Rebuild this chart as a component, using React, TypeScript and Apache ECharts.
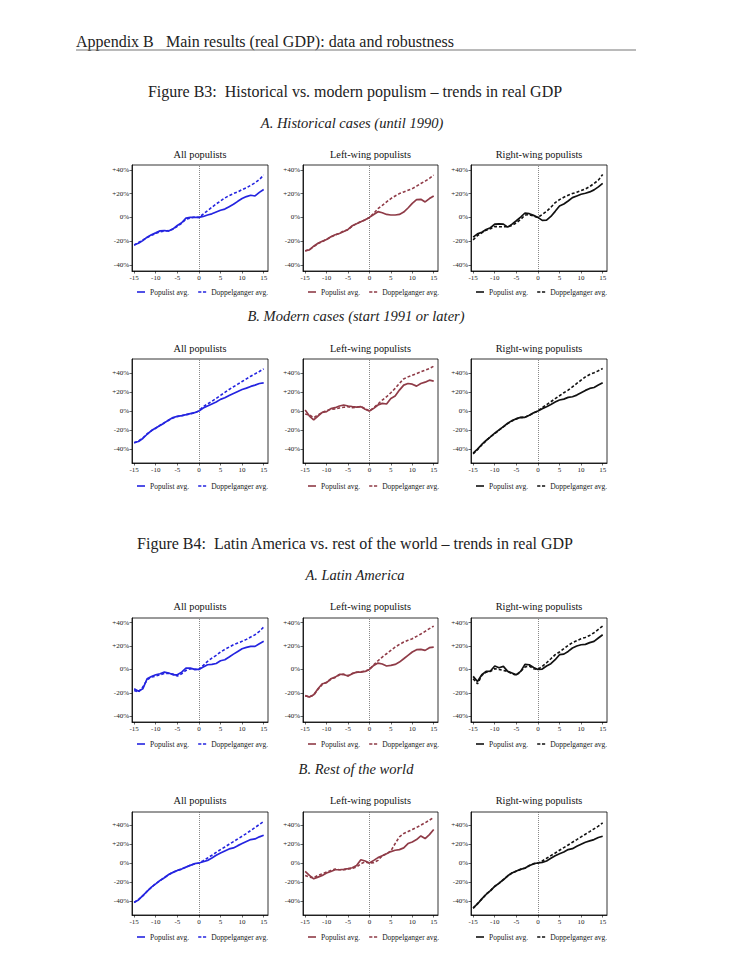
import React, { useEffect, useRef } from "react";
import * as echarts from "echarts";

// ---------------- data ----------------
const years = [-15, -14, -13, -12, -11, -10, -9, -8, -7, -6, -5, -4, -3, -2, -1, 0, 1, 2, 3, 4, 5, 6, 7, 8, 9, 10, 11, 12, 13, 14, 15];
const xTicks = [-15, -10, -5, 0, 5, 10, 15];
const yTicks = [-40, -20, 0, 20, 40];
const panelTitles = ["All populists", "Left-wing populists", "Right-wing populists"];
const legendNames = ["Populist avg.", "Doppelganger avg."];
const groupColors = ["#2424e0", "#8f3b47", "#111111"];

// Figure B3 A: Historical cases
const histAllPop = [-23, -21.7, -19.5, -16.6, -14.6, -13, -11.3, -11, -11.5, -9.6, -6.8, -4.5, -0.6, 0, 0, 0, 0.8, 2, 3, 4.5, 6, 7, 9, 11, 13.5, 15.8, 17.5, 18.6, 18, 21, 23.4];
const histAllDop = [-23.5, -21, -19, -17, -15, -13.5, -12, -11.5, -11, -10, -7.5, -5, -1.5, -0.5, 0.3, 0, 2.8, 5.6, 8.5, 11.3, 13.8, 16.3, 18.3, 20, 21.4, 23.4, 24.8, 27, 29, 31.8, 35.5];
const histLeftPop = [-28, -27.3, -24.2, -21.7, -20, -18.6, -16.3, -14.6, -13.5, -11.8, -10.1, -7, -5.4, -3.7, -2, 0, 2.5, 4.8, 3.9, 2.5, 2, 2, 2.5, 4.5, 7.9, 11.8, 14.9, 15.2, 13, 15.8, 18];
const histLeftDop = [-28.2, -27, -24.5, -22, -20.3, -18.4, -16.5, -14.8, -13.2, -11.5, -10.3, -7.3, -5.2, -3.5, -2.1, 0, 3.4, 7.3, 10.1, 13, 15.8, 18, 20, 21.4, 22.8, 24.2, 26.2, 28.5, 30.4, 32.7, 35.5];
const histRightPop = [-16.6, -13.8, -12.4, -10.1, -8.7, -5.6, -5.4, -5.6, -8.2, -5.6, -2.8, 0.3, 3.7, 3.1, 1.7, 0, -2.5, -2.3, 0.8, 5.1, 9.6, 11.3, 13.8, 16.6, 18, 19.4, 20.3, 21.4, 23.1, 25.6, 28.5];
const histRightDop = [-18.9, -15.2, -13, -10.7, -9.6, -7.6, -7.9, -7.9, -7.9, -6.8, -4.5, -1.7, 2, 2.3, 1.1, 0, 2.5, 5.1, 8.5, 12.4, 14.9, 16.9, 18.6, 20, 21.1, 22.5, 23.9, 25.9, 28.5, 31.3, 36];

// Figure B3 B: Modern cases
const modAllPop = [-33.3, -32.3, -29.1, -24.6, -20.7, -17.9, -15.4, -12.6, -9.5, -7, -5.6, -4.9, -3.9, -2.8, -1.8, 0, 3.2, 5.3, 7.4, 9.5, 12.3, 14, 16.5, 18.6, 20.7, 22.8, 24.2, 26, 27.4, 29.1, 29.8];
const modAllDop = [-33.8, -31.8, -28.6, -24.2, -21, -18.2, -15, -12.3, -9.8, -7.3, -5.8, -5, -4, -3, -1.9, 0, 4.6, 7.4, 10.2, 13.3, 16.5, 19.6, 22.8, 25.6, 28.4, 31.2, 34, 36.8, 39.3, 41.8, 44.6];
const modLeftPop = [1, -5.3, -9.5, -5.3, -1.4, -0.7, 2.5, 3.5, 5.3, 6.3, 5.3, 4.6, 4.2, 4.6, 1.8, 0, 2.8, 6.3, 8.1, 7.4, 13.3, 15.8, 22.1, 27.4, 29.1, 28.4, 26.3, 29.1, 30.5, 32.6, 31.6];
const modLeftDop = [-3.2, -4.2, -7, -4.2, -1.4, 0.4, 1.8, 2.1, 3.2, 3.9, 4.6, 3.5, 3.9, 4.6, 2.5, 0, 3.5, 7.4, 11.6, 15.1, 19.3, 23.9, 29.1, 34, 36.1, 37.9, 39.6, 41.4, 43.2, 44.9, 47.4];
const modRightPop = [-44.6, -40.4, -35.4, -31.2, -27.4, -23.5, -20, -16.5, -13, -10.2, -8.1, -6.7, -6.7, -4.6, -1.8, 0, 2.5, 4.6, 7, 9.5, 11.6, 12.6, 14.4, 15.1, 16.8, 19.3, 21.8, 23.9, 24.9, 27.4, 29.8];
const modRightDop = [-45.3, -41, -35.8, -31.5, -27.2, -23.8, -20.3, -16.8, -13.3, -10.5, -8.4, -7, -6.5, -4.8, -2, 0, 3.5, 6.7, 9.8, 13, 16.1, 19.3, 22.1, 25.6, 29.1, 32.6, 36.1, 38.6, 40.4, 42.5, 44.9];

// Figure B4 A: Latin America
const latAllPop = [-16.6, -18.6, -16.6, -8, -6, -4.6, -3.7, -2.3, -3.1, -4.6, -4.6, -2.3, 1.1, 1.1, 0, 0, 2, 4, 4.3, 5.1, 7.4, 8.3, 10.6, 13.1, 15.4, 17.7, 18.9, 19.7, 19.7, 22, 24];
const latAllDop = [-18, -19.4, -15.1, -8.9, -6.6, -5.7, -4.6, -3.4, -3.4, -4, -5.7, -3.7, -0.9, 0.6, 0, 0, 3.4, 6.9, 9.7, 12, 14.9, 17.1, 19.1, 21.1, 22.6, 24, 25.7, 27.7, 29.7, 32.6, 36.3];
const latLeftPop = [-22.3, -23.7, -21.7, -16.6, -12.3, -11.4, -8, -6.6, -4.3, -4.3, -5.7, -3.7, -2.3, -2.3, -1.7, 0, 3.4, 5.4, 4.6, 2.9, 3.4, 4.3, 6.3, 9.1, 12, 14.9, 16.9, 17.1, 16.3, 18.6, 19.1];
const latLeftDop = [-22.8, -23.3, -22, -17, -12.8, -11, -8.4, -6.9, -4.6, -4.1, -5.4, -3.4, -2.6, -2, -1.4, 0, 4, 7.4, 10.6, 13.4, 16.3, 19.1, 21.4, 23.4, 24.9, 26.3, 28.3, 30.3, 32.6, 34.9, 37.1];
const latRightPop = [-6, -10.3, -4.6, -1.7, -1.4, 2.9, 1.4, 2.6, -1.7, -3.1, -4.6, -1.7, 4.3, 4, 1.7, 0, 0.3, 2.9, 4.9, 8.3, 12.6, 13.1, 15.4, 18.3, 20, 21.1, 21.4, 22.9, 24, 26.9, 29.7];
const latRightDop = [-8, -12.3, -5.1, -2.3, -1.7, 0.6, 0, -0.9, -1.7, -3.7, -5.1, -1.7, 2, 2.9, 0.6, 0, 2.6, 5.7, 9.1, 12.6, 14.9, 17.7, 20.6, 22.9, 24.6, 26.3, 27.4, 29.1, 31.4, 34.3, 37.1];

// Figure B4 B: Rest of the world
const rowAllPop = [-41.5, -39, -34.4, -30.1, -25.5, -22, -18.4, -15.6, -12.1, -9.9, -7.8, -6.4, -4.3, -2.5, -0.7, 0, 1.4, 2.8, 5.3, 8.2, 10.6, 12.8, 14.9, 16, 18.4, 20.6, 22.7, 24.8, 25.5, 27.7, 29.4];
const rowAllDop = [-42, -38.6, -34.8, -29.8, -25.8, -21.7, -18.7, -15.3, -12.4, -9.6, -8, -6.2, -4.5, -2.3, -0.9, 0, 2.5, 5.3, 8.2, 11.3, 14.2, 17, 19.9, 22.7, 25.5, 28.4, 31.2, 34.4, 37.6, 40.8, 44];
const rowLeftPop = [-8.9, -13.1, -16.7, -14.9, -13.1, -10.6, -8.9, -7.1, -7.1, -6.7, -6, -5, -2.5, 3.5, 2.1, 0, 2.8, 5.7, 7.8, 9.9, 12.1, 13.5, 14.2, 16, 20.6, 22.3, 24.8, 28.7, 25.9, 30.1, 35.5];
const rowLeftDop = [-13.1, -14.9, -15.6, -13.1, -11.3, -9.6, -7.8, -6.4, -7.1, -7.1, -6.4, -5.7, -4.3, -0.7, 1.1, 0, 0.4, 2.8, 7.8, 9.9, 12.8, 20.6, 27.7, 31.2, 33.3, 35.5, 37.6, 40.1, 42.6, 45.4, 48.2];
const rowRightPop = [-47.5, -43.3, -37.9, -33.3, -29.1, -24.8, -21.3, -17.7, -13.5, -10.6, -8.5, -6.7, -5.3, -2.8, -0.7, 0, 0.7, 2.1, 5, 7.8, 9.9, 11.7, 14.2, 15.2, 17.7, 19.9, 22, 23.4, 24.8, 27, 28.4];
const rowRightDop = [-48, -43, -38.2, -33, -29.4, -24.5, -21.6, -17.4, -13.8, -10.3, -8.8, -6.5, -5.5, -2.6, -0.9, 0, 2.1, 5, 7.8, 10.6, 13.5, 16.3, 19.1, 22, 24.8, 27.7, 30.5, 33.3, 36.2, 39, 42.6];

const panelData = [
  [[histAllPop, histAllDop], [histLeftPop, histLeftDop], [histRightPop, histRightDop]],
  [[modAllPop, modAllDop], [modLeftPop, modLeftDop], [modRightPop, modRightDop]],
  [[latAllPop, latAllDop], [latLeftPop, latLeftDop], [latRightPop, latRightDop]],
  [[rowAllPop, rowAllDop], [rowLeftPop, rowLeftDop], [rowRightPop, rowRightDop]],
];

// ---------------- layout ----------------
const W = 750;
const H = 971;
const SERIF = "'Liberation Serif', 'DejaVu Serif', serif";
const colLeft = [132, 303, 471];
const colWidth = [136, 135, 136];
const rowTop = [165, 359, 618, 812];
const rowHeight = [106, 104, 104, 103];
const rowYMin = [-45, -55, -45, -55];
const rowYMax = [44, 55, 44, 54];
const titleY = [155, 349, 607, 801];
const legendY = [292, 486, 744, 937];

const SOLID_ICON = "path://M0,0H10V2H0Z";
const DASH_ICON = "path://M0,0H4V2H0Z M6,0H10V2H6Z";

function buildOption() {
  const grid: any[] = [];
  const xAxis: any[] = [];
  const yAxis: any[] = [];
  const series: any[] = [];
  const legend: any[] = [];
  const title: any[] = [];

  panelData.forEach((row, r) => {
    row.forEach((pair, c) => {
      const idx = r * 3 + c;
      const color = groupColors[c];
      grid.push({
        left: colLeft[c],
        top: rowTop[r],
        width: colWidth[c],
        height: rowHeight[r],
        show: true,
        borderColor: "#000",
        borderWidth: 0.8,
        backgroundColor: "transparent",
      });
      xAxis.push({
        gridIndex: idx,
        type: "value",
        min: -15.5,
        max: 16,
        splitLine: { show: false },
        axisLine: { show: true, onZero: false, lineStyle: { color: "#000", width: 0.8 } },
        axisTick: { show: true, customValues: xTicks, length: 2.5, lineStyle: { color: "#000", width: 0.6 } },
        axisLabel: { customValues: xTicks, fontSize: 7, fontFamily: SERIF, color: "#222", margin: 3 },
      });
      yAxis.push({
        gridIndex: idx,
        type: "value",
        min: rowYMin[r],
        max: rowYMax[r],
        splitLine: { show: false },
        axisLine: { show: true, onZero: false, lineStyle: { color: "#000", width: 0.8 } },
        axisTick: { show: true, customValues: yTicks, length: 2.5, lineStyle: { color: "#000", width: 0.6 } },
        axisLabel: {
          customValues: yTicks,
          fontSize: 7,
          fontFamily: SERIF,
          color: "#222",
          margin: 3,
          formatter: (v: number) => (v > 0 ? "+" + v + "%" : v + "%"),
        },
      });
      const popName = legendNames[0] + "#" + idx;
      const dopName = legendNames[1] + "#" + idx;
      series.push({
        name: dopName,
        type: "line",
        xAxisIndex: idx,
        yAxisIndex: idx,
        data: years.map((y, i) => [y, pair[1][i]]),
        symbol: "none",
        showSymbol: false,
        color,
        lineStyle: { color, width: 1.6, type: [3, 2] },
        z: 3,
      });
      series.push({
        name: popName,
        type: "line",
        xAxisIndex: idx,
        yAxisIndex: idx,
        data: years.map((y, i) => [y, pair[0][i]]),
        symbol: "none",
        showSymbol: false,
        color,
        lineStyle: { color, width: 1.7, type: "solid" },
        z: 4,
        markLine: {
          silent: true,
          symbol: ["none", "none"],
          label: { show: false },
          lineStyle: { color: "#555", width: 0.7, type: [1, 1] },
          data: [{ xAxis: 0 }],
          z: 2,
        },
      });
      legend.push({
        data: [
          { name: popName, icon: SOLID_ICON, itemStyle: { color } },
          { name: dopName, icon: DASH_ICON, itemStyle: { color } },
        ],
        left: colLeft[c] + 5,
        top: legendY[r] - 5,
        itemWidth: 8,
        itemHeight: 2,
        itemGap: 9,
        padding: 0,
        selectedMode: false,
        formatter: (n: string) => n.split("#")[0],
        textStyle: { fontSize: 7.5, fontFamily: SERIF, color: "#222", lineHeight: 10 },
      });
      title.push({
        text: panelTitles[c],
        left: colLeft[c] + colWidth[c] / 2,
        top: titleY[r] - 5.5,
        textAlign: "center",
        padding: 0,
        textStyle: { fontSize: 10.3, fontFamily: SERIF, fontWeight: "normal", color: "#111" },
      });
    });
  });

  const pageText = (text: string, x: number, y: number, size: number, opts: any = {}) => ({
    type: "text",
    x,
    y,
    silent: true,
    style: {
      text,
      fill: "#222",
      fontSize: size,
      fontFamily: SERIF,
      align: opts.align || "center",
      verticalAlign: "middle",
      fontStyle: opts.italic ? "italic" : "normal",
    },
  });

  const graphic = [
    pageText("Appendix B", 76, 41, 16, { align: "left" }),
    pageText("Main results (real GDP): data and robustness", 166, 41, 16, { align: "left" }),
    {
      type: "line",
      silent: true,
      shape: { x1: 76, y1: 50, x2: 636, y2: 50 },
      style: { stroke: "#777", lineWidth: 1.2 },
    },
    pageText("Figure B3:\u00a0\u00a0Historical vs. modern populism \u2013 trends in real GDP", 355, 91, 16),
    pageText("A. Historical cases (until 1990)", 352, 123, 14.5, { italic: true }),
    pageText("B. Modern cases (start 1991 or later)", 356, 316, 14.5, { italic: true }),
    pageText("Figure B4:\u00a0\u00a0Latin America vs. rest of the world \u2013 trends in real GDP", 355, 543, 16),
    pageText("A. Latin America", 355, 575, 14.5, { italic: true }),
    pageText("B. Rest of the world", 356, 769, 14.5, { italic: true }),
  ];

  return {
    animation: false,
    backgroundColor: "#fff",
    title,
    grid,
    xAxis,
    yAxis,
    legend,
    series,
    graphic,
  };
}

export default function App() {
  const ref = useRef<HTMLDivElement>(null);
  useEffect(() => {
    if (!ref.current) return;
    const chart = echarts.init(ref.current, undefined, { renderer: "svg", width: W, height: H });
    chart.setOption(buildOption() as any);
    return () => chart.dispose();
  }, []);
  return <div ref={ref} style={{ position: "absolute", left: 0, top: 0, width: W, height: H }} />;
}
